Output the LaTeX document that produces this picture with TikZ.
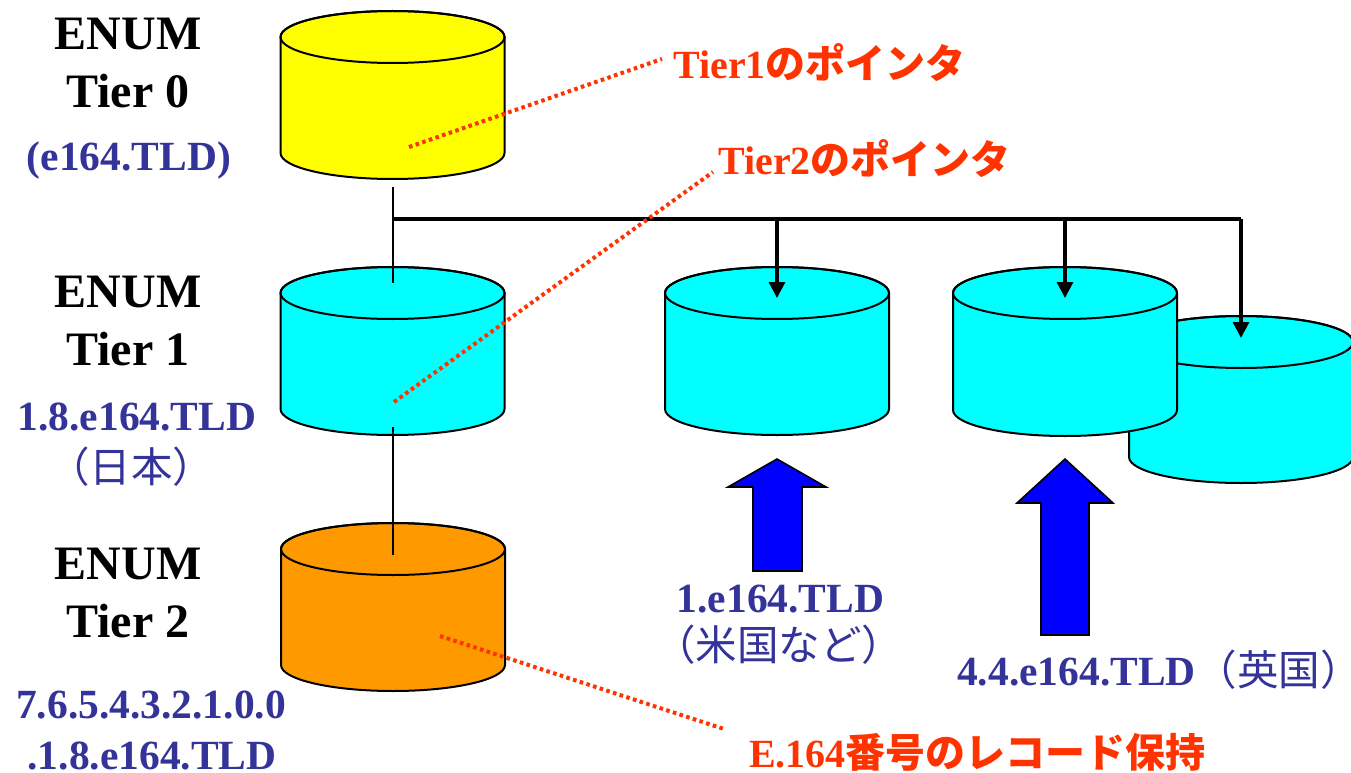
\documentclass[tikz,border=0pt]{standalone}
\usepackage{fontspec}
\setmainfont{Liberation Serif}
\newfontfamily\jp{Noto Sans CJK JP}
\usetikzlibrary{arrows.meta}
\definecolor{cylyellow}{HTML}{FFFF00}
\definecolor{cylcyan}{HTML}{00FFFF}
\definecolor{cylorange}{HTML}{FF9900}
\definecolor{arrowblue}{HTML}{0000FF}
\definecolor{textblue}{HTML}{333399}
\definecolor{labelred}{HTML}{FF3300}
\newcommand\drawcyl[4]{%
  \path[draw=black, line width=2pt, fill=#4]
    (#1-112,#2) -- (#1-112,#3)
    arc[start angle=180, end angle=360, x radius=112pt, y radius=26pt]
    -- (#1+112,#2)
    arc[start angle=0, end angle=180, x radius=112pt, y radius=26pt] -- cycle;
  \draw[line width=2pt] (#1,#2) ellipse[x radius=112pt, y radius=26pt];
}
\tikzset{
  tierlab/.style={font=\fontsize{48}{48}\selectfont\bfseries, anchor=base, inner sep=0pt, text depth=0pt},
  bluelab/.style={text=textblue, font=\fontsize{41.5}{41.5}\selectfont\bfseries, anchor=base, inner sep=0pt, text depth=0pt},
  redlab/.style={text=labelred, font=\fontsize{40}{40}\selectfont\bfseries, anchor=base west, inner sep=0pt, text depth=0pt},
  pointer/.style={draw=labelred, line width=4pt, dash pattern=on 3.6pt off 3.4pt},
  tree/.style={draw=black, line width=3.2pt},
  drop/.style={tree, -{Triangle[width=16pt,length=16pt]}},
  bigarrow/.style={draw=black, line width=1.6pt, fill=arrowblue, line join=miter}
}
\begin{document}
\begin{tikzpicture}[x=1pt,y=-1pt]
\clip (0,0) rectangle (1351,773);
\fill[white] (0,0) rectangle (1351,773);

% cylinders
\drawcyl{392.5}{37}{153}{cylyellow}
\drawcyl{392.5}{293}{409}{cylcyan}
\drawcyl{393}{549}{665}{cylorange}
\drawcyl{777}{293}{409}{cylcyan}
\drawcyl{1241}{342}{457}{cylcyan}
\drawcyl{1065}{293}{410}{cylcyan}

% connector coordinates
\coordinate (t0out) at (393,187);
\coordinate (t1in) at (393,283);
\coordinate (bus) at (393,219);
\coordinate (busus) at (777,219);
\coordinate (busuk) at (1065,219);
\coordinate (busend) at (1241,219);
\coordinate (usin) at (777,298);
\coordinate (ukin) at (1065,298);
\coordinate (backin) at (1241,338);
\coordinate (t1out) at (393,427);
\coordinate (t2in) at (393,555);

\draw[line width=2pt] (t0out) -- (t1in);
\draw[line width=2pt] (t1out) -- (t2in);
\draw[tree] (bus) -- (busend);
\draw[drop] (busend) -- (backin);
\draw[drop] (busus) -- (usin);
\draw[drop] (busuk) -- (ukin);

% blue arrows
\path[bigarrow] (753,571) -- (753,487) -- (728,487) -- (777,459) -- (826,487) -- (802,487) -- (802,571) -- cycle;
\path[bigarrow] (1041,635) -- (1041,503) -- (1017,503) -- (1065,459) -- (1113,503) -- (1089,503) -- (1089,635) -- cycle;

% left labels
\node[tierlab] (e0) at (128,50) {ENUM};
\node[tierlab] (n0) at (128,108) {Tier 0};
\node[bluelab] (d0) at (129,170) {(e164.TLD)};
\node[tierlab] (e1) at (128,307) {ENUM};
\node[tierlab] (n1) at (128,365) {Tier 1};
\node[bluelab] (d1) at (137,430) {1.8.e164.TLD};
\node[bluelab] (j1) at (131,482) {\jp\mdseries （日本）};
\node[tierlab] (e2) at (128,579) {ENUM};
\node[tierlab] (n2) at (128,637) {Tier 2};
\node[bluelab] (d2a) at (151,718) {7.6.5.4.3.2.1.0.0};
\node[bluelab] (d2b) at (152,769) {.1.8.e164.TLD};

% right labels
\node[bluelab] (us) at (780.5,612) {1.e164.TLD};
\node[bluelab] (usj) at (778.5,660) {\jp\mdseries （米国など）};
\node[bluelab, anchor=base west] (uk) at (957,685) {4.4.e164.TLD{\jp\mdseries （英国）}\kern-12pt};

% red labels
\node[redlab] (p1) at (673,79) {Tier1{\jp のポインタ}};
\node[redlab] (p2) at (718,174) {Tier2{\jp のポインタ}};
\node[redlab] (p3) at (749,767) {E.164{\jp 番号のレコード保持}};

% pointer lines
\coordinate (p1s) at (409,147);
\coordinate (p1e) at (662,59);
\coordinate (p2s) at (394,402);
\coordinate (p2e) at (713,172);
\coordinate (p3s) at (440,636);
\coordinate (p3e) at (724,729);
\draw[pointer] (p1s) -- (p1e);
\draw[pointer] (p2s) -- (p2e);
\draw[pointer] (p3s) -- (p3e);
\end{tikzpicture}
\end{document}
